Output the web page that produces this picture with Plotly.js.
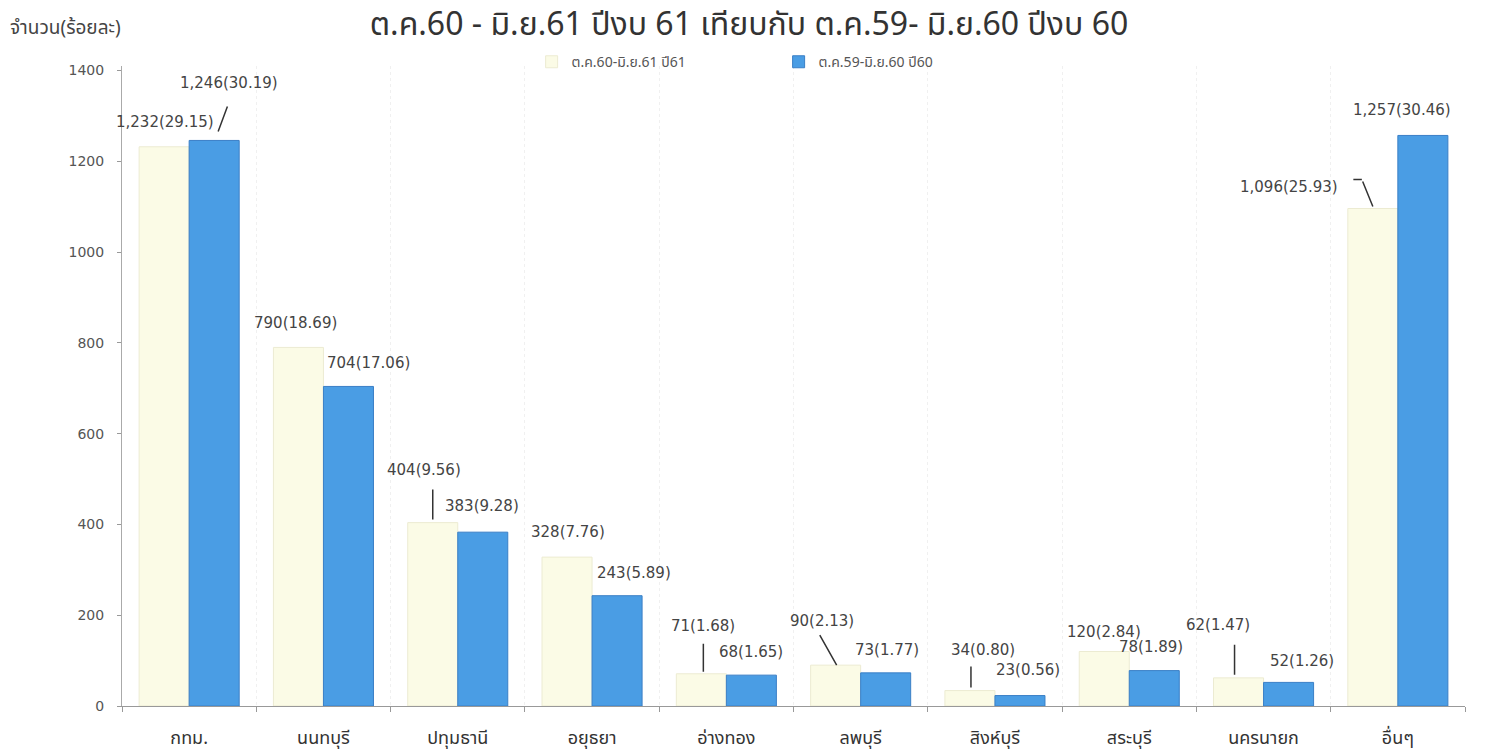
<!DOCTYPE html>
<html>
<head>
<meta charset="utf-8">
<script src="https://cdn.plot.ly/plotly-3.0.1.min.js"></script>
<style>html,body{margin:0;padding:0;background:#fff;}#chart{width:1498px;height:753px;}</style>
</head>
<body>
<div id="chart"></div>
<script>
// ---- data ----
const categories = ['กทม.','นนทบุรี','ปทุมธานี','อยุธยา','อ่างทอง','ลพบุรี','สิงห์บุรี','สระบุรี','นครนายก','อื่นๆ'];
const count61 = [1232, 790, 404, 328, 71, 90, 34, 120, 62, 1096];
const pct61   = [29.15, 18.69, 9.56, 7.76, 1.68, 2.13, 0.80, 2.84, 1.47, 25.93];
const count60 = [1246, 704, 383, 243, 68, 73, 23, 78, 52, 1257];
const pct60   = [30.19, 17.06, 9.28, 5.89, 1.65, 1.77, 0.56, 1.89, 1.26, 30.46];
const seriesNames = ['ต.ค.60-มิ.ย.61 ปี61', 'ต.ค.59-มิ.ย.60 ปี60'];
const yTickVals = [0, 200, 400, 600, 800, 1000, 1200, 1400];
const titleText = 'ต.ค.60 - มิ.ย.61 ปีงบ 61 เทียบกับ ต.ค.59- มิ.ย.60 ปีงบ 60';
const yTitleText = 'จำนวน(ร้อยละ)';

// ---- label placement (pixels relative to bar top) ----
const barHalf = 25;
const labelOff61 = [[1,-25],[-3,-24],[-9,-53],[1,-25],[2,-48],[-14,-44],[13,-41],[0,-20],[-21,-53],[-84,-22]];
const labelOff60 = [[15,-57],[20,-23],[-1,-26],[17,-23],[0,-23],[1,-23],[8,-26],[-3,-24],[13,-21],[-21,-25]];
// [series(0=61,1=60), index, startDx, startDy, endDx, endDy]
const leaders = [
  [0,2, 0,-3, 0,-35],
  [0,4, 2,-2, 2,-32],
  [0,5, 1,0, -17,-32],
  [0,6, 1,-3, 1,-26],
  [0,8, -4,-3, -4,-35],
  [0,9, 0,-2, -11,-29],
  [0,9, -11,-29, -21,-29],
  [1,0, 4,-9, 14,-36]
];

const THAI = '"Noto Sans Thai", "Noto Sans", sans-serif';
const NUM = '"DejaVu Sans", "Noto Sans Thai", sans-serif';
const fmt = (v, p) => v.toLocaleString('en-US') + '(' + p.toFixed(2) + ')';

const traces = [
  {type:'bar', name:seriesNames[0], x:categories, y:count61,
   marker:{color:'#fbfbe6', line:{color:'#ecebd2', width:1}}, hoverinfo:'y'},
  {type:'bar', name:seriesNames[1], x:categories, y:count60,
   marker:{color:'#4a9de4', line:{color:'#3a7fc6', width:1}}, hoverinfo:'y'}
];

const annotations = [];
const sets = [[count61,pct61,labelOff61,-barHalf],[count60,pct60,labelOff60,barHalf]];
sets.forEach(([vals,pcts,offs,bx]) => {
  vals.forEach((v,i) => {
    annotations.push({x:categories[i], y:v, xref:'x', yref:'y', text:fmt(v,pcts[i]),
      showarrow:false, xshift:bx+offs[i][0], yshift:-offs[i][1],
      font:{family:NUM, size:15, color:'#444'}, xanchor:'center', yanchor:'middle'});
  });
});
leaders.forEach(([s,i,sdx,sdy,edx,edy]) => {
  const vals = s===0 ? count61 : count60;
  const bx = s===0 ? -barHalf : barHalf;
  annotations.push({x:categories[i], y:vals[i], xref:'x', yref:'y', text:' ',
    font:{size:1}, showarrow:true, arrowhead:0, arrowwidth:1.5, arrowcolor:'#333',
    xshift:bx+sdx, yshift:-sdy, ax:edx-sdx, ay:edy-sdy, standoff:0, startstandoff:0});
});
annotations.push({xref:'paper', yref:'paper', x:-0.085, y:1.058, xanchor:'left', yanchor:'middle',
  text:yTitleText, showarrow:false, font:{family:THAI, size:19, color:'#444'}});

const layout = {
  width:1498, height:753,
  margin:{l:122, r:33, t:66, b:47},
  paper_bgcolor:'#fff', plot_bgcolor:'#fff',
  title:{text:titleText, x:0.5, xanchor:'center', y:0.968, yanchor:'middle', yref:'container',
         font:{family:THAI, size:32, color:'#333'}},
  barmode:'group', bargap:0.255, bargroupgap:0,
  showlegend:true,
  legend:{orientation:'h', x:0.305, xanchor:'left', y:1.006, yanchor:'middle',
          entrywidth:202, entrywidthmode:'pixels',
          font:{family:THAI, size:14, color:'#555'}, bgcolor:'rgba(0,0,0,0)'},
  xaxis:{type:'category', range:[-0.5, 9.5], autorange:false, tickson:'boundaries', ticks:'outside', ticklen:5, tickcolor:'#999',
         showline:true, linecolor:'#999', linewidth:1, showgrid:true, gridcolor:'#f0f0f0', griddash:'dot',
         tickfont:{family:THAI, size:18, color:'#333'}, ticklabelstandoff:15, fixedrange:true},
  yaxis:{range:[0,1410], autorange:false, tickvals:yTickVals, ticks:'outside', ticklen:4, tickcolor:'#999',
         showline:true, linecolor:'#aaa', linewidth:1, showgrid:false, zeroline:false,
         tickfont:{family:NUM, size:14, color:'#555'}, ticklabelstandoff:10, fixedrange:true},
  annotations:annotations
};

Plotly.newPlot('chart', traces, layout, {displayModeBar:false, staticPlot:true});
</script>
</body>
</html>
